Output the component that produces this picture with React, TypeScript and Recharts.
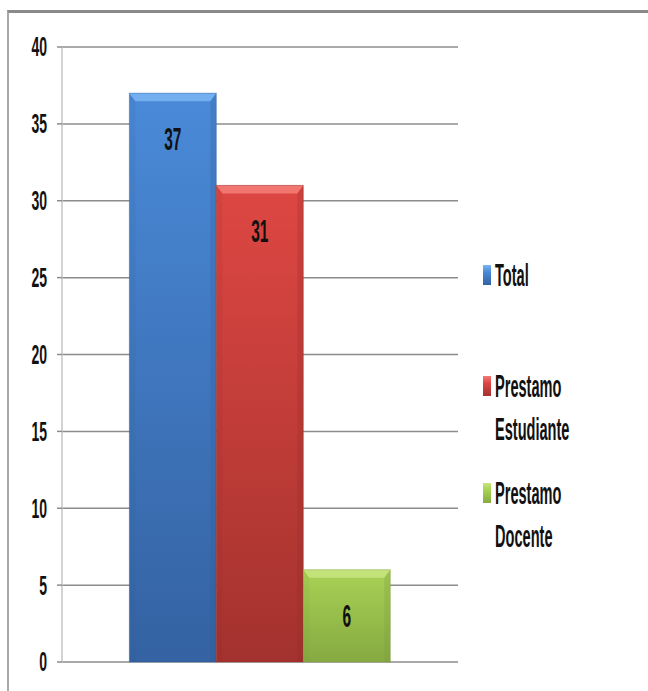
import React from "react";
import { BarChart, Bar, XAxis, YAxis, CartesianGrid, LabelList } from "recharts";

const categories = ["Préstamos"];
const seriesNames = ["Total", "Prestamo Estudiante", "Prestamo Docente"];
const seriesKeys = ["total", "estudiante", "docente"];
const totalValues = [37];
const estudianteValues = [31];
const docenteValues = [6];
const yTicks = [0, 5, 10, 15, 20, 25, 30, 35, 40];

const colors = [
  { top: "#4a8ad8", bottom: "#3462a2", bevel: "#79b4f2", edge: "#2f5b96" },
  { top: "#de4743", bottom: "#a3322e", bevel: "#f37b76", edge: "#8f2a27" },
  { top: "#a8d255", bottom: "#86a941", bevel: "#c6e47e", edge: "#78963a" },
];

const data = categories.map((c, i) => ({
  name: c,
  total: totalValues[i],
  estudiante: estudianteValues[i],
  docente: docenteValues[i],
}));

const FONT = "'Liberation Sans', Arial, sans-serif";
const SX = 0.5;
const LSX = 0.47;
const WEIGHT = 600;

const YTick = (props: any) => {
  const { x, y, payload } = props;
  return (
    <text
      transform={`translate(${x},${y}) scale(${SX},1)`}
      textAnchor="end"
      dominantBaseline="central"
      fontFamily={FONT}
      fontSize={28}
      fontWeight={WEIGHT}
      fill="#111"
    >
      {payload.value}
    </text>
  );
};

const makeShape = (idx: number) => (props: any) => {
  const { x, y, width, height } = props;
  if (!height || height <= 0) return null;
  const c = colors[idx];
  const b = Math.min(8, height / 2);
  return (
    <g>
      <rect x={x} y={y} width={width} height={height} fill={`url(#grad${idx})`} />
      <polygon
        points={`${x},${y} ${x + width},${y} ${x + width - 6},${y + b} ${x + 6},${y + b}`}
        fill={c.bevel}
        opacity={0.9}
      />
      <polygon
        points={`${x},${y} ${x + 6},${y + b} ${x + 6},${y + height} ${x},${y + height}`}
        fill={c.edge}
        opacity={0.12}
      />
      <polygon
        points={`${x + width},${y} ${x + width - 6},${y + b} ${x + width - 6},${y + height} ${x + width},${y + height}`}
        fill={c.edge}
        opacity={0.25}
      />
      <rect x={x} y={y} width={width} height={height} fill="none" stroke={c.edge} strokeOpacity={0.35} strokeWidth={1} />
    </g>
  );
};

const DataLabel = (props: any) => {
  const { x, y, width, value } = props;
  return (
    <text
      transform={`translate(${x + width / 2},${y + 46}) scale(${SX},1)`}
      textAnchor="middle"
      dominantBaseline="central"
      fontFamily={FONT}
      fontSize={31}
      fontWeight={WEIGHT}
      fill="#111"
    >
      {value}
    </text>
  );
};

const legendRows = [
  { lines: ["Total"], y: 275 },
  { lines: ["Prestamo", "Estudiante"], y: 386 },
  { lines: ["Prestamo", "Docente"], y: 493 },
];

export default function App() {
  return (
    <div style={{ position: "absolute", left: 0, top: 0, width: 648, height: 691, background: "#fff" }}>
      <div
        style={{
          position: "absolute",
          left: 7,
          top: 10,
          width: 641,
          height: 681,
          borderTop: "3px solid #8a8a8a",
          borderLeft: "2px solid #a8a8a8",
          boxSizing: "border-box",
        }}
      />
      <div style={{ position: "absolute", left: 0, top: 0 }}>
        <BarChart
          width={648}
          height={691}
          data={data}
          margin={{ top: 47, right: 190, bottom: 29, left: 0 }}
          barCategoryGap="17%"
          barGap={0}
        >
          <defs>
            {colors.map((c, i) => (
              <linearGradient key={i} id={`grad${i}`} x1="0" y1="0" x2="0" y2="1">
                <stop offset="0%" stopColor={c.top} />
                <stop offset="100%" stopColor={c.bottom} />
              </linearGradient>
            ))}
          </defs>
          <CartesianGrid vertical={false} stroke="#8c8c8c" strokeWidth={1.5} />
          <XAxis dataKey="name" hide />
          <YAxis
            domain={[0, 40]}
            ticks={yTicks}
            width={62}
            tickSize={5}
            tickMargin={10}
            axisLine={{ stroke: "#c4c4c4", strokeWidth: 1.5 }}
            tickLine={{ stroke: "#8c8c8c", strokeWidth: 1.5 }}
            tick={<YTick />}
            interval={0}
          />
          {seriesKeys.map((k, i) => (
            <Bar
              key={k}
              dataKey={k}
              name={seriesNames[i]}
              isAnimationActive={false}
              shape={makeShape(i)}
            >
              <LabelList dataKey={k} content={<DataLabel />} />
            </Bar>
          ))}
        </BarChart>
      </div>
      <svg style={{ position: "absolute", left: 0, top: 0 }} width={648} height={691}>
        {legendRows.map((r, i) => (
          <g key={i}>
            <rect x={483} y={r.y - 10} width={8} height={20} fill={`url(#lg${i})`} />
            <defs>
              <linearGradient id={`lg${i}`} x1="0" y1="0" x2="0" y2="1">
                <stop offset="0%" stopColor={colors[i].bevel} />
                <stop offset="35%" stopColor={colors[i].top} />
                <stop offset="100%" stopColor={colors[i].bottom} />
              </linearGradient>
            </defs>
            {r.lines.map((ln, j) => (
              <text
                key={j}
                transform={`translate(495,${r.y + j * 43}) scale(${LSX},1)`}
                dominantBaseline="central"
                fontFamily={FONT}
                fontSize={31}
                fontWeight={WEIGHT}
                fill="#111"
              >
                {ln}
              </text>
            ))}
          </g>
        ))}
      </svg>
    </div>
  );
}
